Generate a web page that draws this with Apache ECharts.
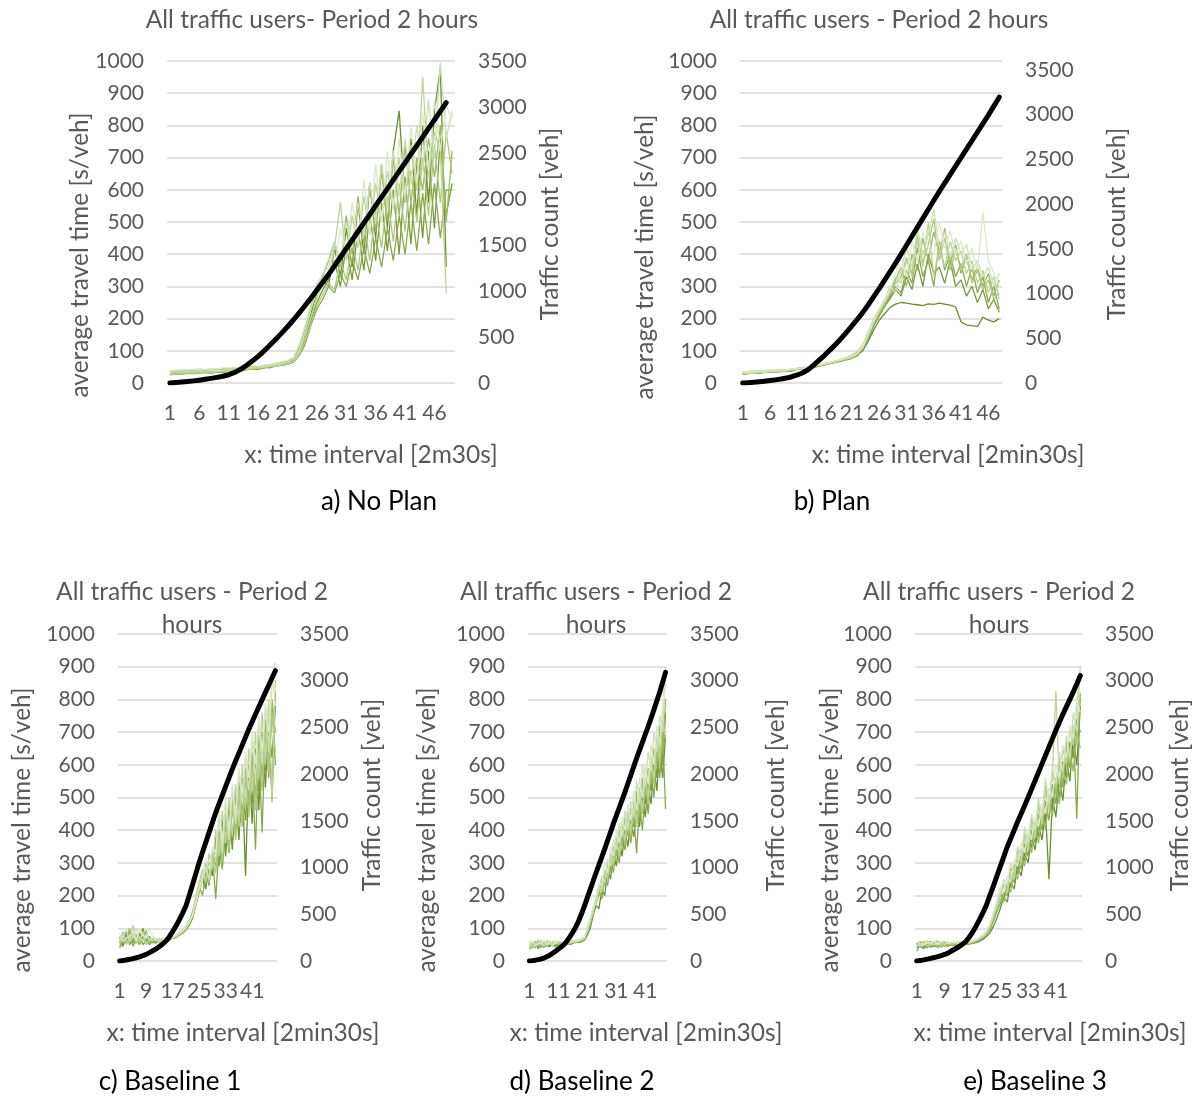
<!DOCTYPE html>
<html><head><meta charset="utf-8">
<script src="https://cdn.jsdelivr.net/npm/echarts@6/dist/echarts.min.js"></script>
<style>html,body{margin:0;padding:0;background:#fff}#c{width:1197px;height:1097px}</style>
</head><body><div id="c"></div>
<script>
// ---------- DATA ----------
const catsA = ['1','2','3','4','5','6','7','8','9','10','11','12','13','14','15','16','17','18','19','20','21','22','23','24','25','26','27','28','29','30','31','32','33','34','35','36','37','38','39','40','41','42','43','44','45','46','47','48','49'];
const cats48 = catsA.slice(0, 48);

// a) No Plan - traffic count (right axis) and travel times (left axis)
const countA = [0,5,10,16,23,31,40,50,61,73,90,115,148,190,238,290,347,410,475,542,612,685,762,842,925,1010,1095,1180,1273,1367,1460,1553,1647,1740,1833,1927,2020,2113,2207,2300,2393,2487,2580,2673,2767,2860,2953,3047];
const ttA1 = [30,33,31,35,34,36,33,37,38,36,40,39,42,45,44,48,50,47,55,58,62,70,95,150,215,280,320,300,420,330,480,360,560,400,620,450,680,480,720,845,560,760,520,800,560,840,980,360];
const ttA2 = [25,28,27,30,29,31,32,30,34,33,36,38,37,41,43,42,46,49,52,55,58,64,85,120,180,230,260,300,280,340,300,380,320,420,340,450,360,480,380,520,400,560,410,590,430,620,450,600,600];
const ttA3 = [35,38,36,40,39,42,41,40,43,45,44,47,46,50,52,51,54,56,60,64,68,78,110,170,240,300,330,380,440,360,520,400,580,430,620,470,660,500,700,520,740,560,700,600,760,640,800,500,720];
const ttA4 = [28,30,33,31,34,32,35,36,34,37,38,40,41,43,45,47,49,52,54,57,60,67,92,145,205,265,310,330,420,560,380,520,420,580,460,620,500,660,540,700,560,740,600,950,640,780,720,280];
const ttA5 = [32,35,34,37,36,38,37,39,40,39,42,43,45,46,48,50,52,55,58,61,65,74,100,160,230,290,340,360,440,380,500,420,560,460,620,500,680,540,720,580,760,620,800,660,880,700,995,760,845];
const ttA6 = [38,40,42,41,43,44,42,45,44,46,47,48,50,52,54,53,56,58,62,66,70,80,120,180,250,310,340,390,350,480,400,560,430,630,460,680,500,720,540,760,580,800,620,840,660,880,720,860,820];
const ttA7 = [30,32,34,33,36,35,38,37,39,41,40,43,44,46,45,49,51,53,56,60,64,72,90,135,195,250,290,320,380,300,430,320,480,350,530,380,560,410,600,400,640,430,680,450,720,480,760,520,620];
const ttA8 = [26,29,28,32,30,33,35,34,36,38,37,40,42,41,44,46,48,50,53,56,60,66,88,128,185,240,275,310,290,380,320,440,350,500,380,540,420,580,440,620,470,660,500,700,520,740,560,780,650];

// b) Plan
const countB = [0,4,9,14,20,27,35,44,55,70,90,115,150,200,255,310,370,430,495,565,638,713,790,875,965,1055,1150,1245,1340,1440,1540,1640,1740,1840,1940,2040,2140,2235,2330,2425,2520,2615,2710,2805,2900,2995,3095,3195];
const ttB1 = [30,32,31,34,33,35,36,35,38,37,42,44,46,49,52,58,62,66,70,75,80,88,100,130,165,195,215,235,245,250,248,245,243,240,246,244,248,245,242,236,190,180,178,175,205,195,190,200];
const ttB2 = [27,29,31,30,33,35,34,37,36,39,44,46,45,50,53,57,60,64,68,72,76,84,105,140,180,210,240,270,300,280,350,310,420,330,380,300,440,350,400,330,370,300,360,280,330,250,300,230];
const ttB3 = [33,35,34,37,38,36,39,40,38,41,45,47,50,52,55,60,63,67,72,78,85,95,110,145,185,220,250,280,320,360,300,400,350,450,380,470,400,480,370,430,340,390,320,360,300,340,270,320];
const ttB4 = [29,31,30,33,32,35,37,36,38,40,43,45,48,51,54,58,62,65,70,74,78,90,115,155,195,225,255,290,330,310,380,330,440,360,500,330,420,360,440,380,410,340,380,310,350,280,330,260];
const ttB5 = [35,36,38,37,39,41,40,42,41,43,46,48,51,53,57,61,65,69,74,80,88,98,120,160,200,230,260,300,280,350,420,360,480,400,460,540,420,470,390,450,400,430,350,380,330,360,300,340];
const ttB6 = [31,34,33,36,35,38,37,39,40,42,44,46,49,52,56,59,64,68,73,77,83,92,112,150,190,225,255,290,340,390,330,440,380,470,420,400,500,420,470,400,440,370,420,350,530,380,340,300];
const ttB7 = [28,30,32,31,34,33,36,38,37,40,43,45,47,50,53,56,61,64,68,73,79,87,102,138,178,208,238,262,290,270,330,290,370,300,400,340,360,310,380,300,320,270,300,250,290,230,260,220];
const ttB8 = [32,33,35,34,37,36,39,41,40,43,45,48,50,53,56,60,64,68,71,76,82,91,108,148,188,218,248,280,310,330,390,340,460,370,430,510,380,450,350,410,360,400,310,350,290,320,260,280];

// c) Baseline 1
const countC = [0,5,11,18,26,35,45,57,71,90,110,130,155,182,214,260,315,375,440,512,589,700,815,935,1054,1163,1270,1377,1483,1589,1682,1775,1868,1961,2054,2140,2225,2311,2396,2482,2561,2640,2718,2797,2875,2952,3030,3107];
const ttC1 = [60,45,80,50,70,55,85,50,60,75,55,62,58,65,60,68,72,70,80,85,95,110,130,170,210,250,220,300,260,380,290,430,320,480,340,520,370,560,260,600,420,650,460,700,530,740,490,820];
const ttC2 = [40,70,55,90,45,65,50,75,55,60,58,55,62,60,66,64,70,75,78,90,100,120,150,190,230,200,270,230,330,190,350,280,420,330,470,380,510,420,560,460,610,340,660,393,720,560,780,600];
const ttC3 = [75,55,65,100,60,80,55,65,90,55,65,60,70,58,64,72,68,78,85,92,105,125,140,180,220,260,300,260,320,290,400,300,450,350,500,400,550,450,590,480,640,500,690,560,740,600,800,700];
const ttC4 = [50,85,60,55,110,65,60,90,50,70,60,66,56,62,70,66,74,72,82,88,98,115,145,200,240,280,240,330,280,400,320,460,360,500,380,540,410,600,470,650,520,700,560,760,600,800,485,860];
const ttC5 = [65,75,95,60,75,100,70,60,80,65,70,64,60,68,62,70,76,74,84,90,100,118,135,175,215,245,290,250,340,310,440,330,490,370,520,420,580,480,620,520,680,550,730,600,780,650,850,913];
const ttC6 = [85,60,70,75,90,60,95,80,70,100,75,70,66,72,68,74,70,80,88,94,108,122,140,185,225,255,310,280,350,330,470,360,505,400,540,450,590,510,640,560,700,600,750,640,790,700,880,780];
const ttC7 = [70,50,90,65,55,80,60,100,65,50,62,58,66,63,60,70,74,72,80,86,96,112,138,178,218,258,230,290,270,360,300,420,340,460,360,500,390,540,430,580,480,620,520,680,580,720,620,780];
const ttC8 = [55,90,50,70,85,55,75,60,95,60,68,62,64,60,66,62,72,76,82,88,102,118,142,182,222,262,280,240,310,270,380,310,440,340,480,370,520,410,570,440,600,460,650,520,700,580,760,640];

// d) Baseline 2
const countD = [0,4,9,15,22,32,45,62,82,105,128,152,179,215,262,310,365,430,505,589,678,767,856,945,1030,1115,1200,1290,1380,1470,1555,1640,1725,1810,1900,1990,2080,2170,2255,2340,2425,2510,2600,2690,2785,2880,2985,3089];
const ttD1 = [45,40,55,38,50,42,48,44,52,46,50,48,52,55,50,54,58,56,60,64,80,100,140,170,160,220,200,280,250,330,290,370,320,400,350,430,380,460,410,500,440,540,480,600,520,650,560,690];
const ttD2 = [55,48,60,45,62,50,58,52,47,55,52,55,50,58,54,57,60,62,58,66,88,120,150,185,210,190,260,230,310,270,350,300,390,340,420,360,450,330,480,400,530,450,580,500,640,560,700,465];
const ttD3 = [35,50,42,58,40,55,45,60,50,42,48,52,56,50,55,60,56,64,62,70,95,110,160,175,200,250,230,300,270,350,320,400,350,440,380,470,420,520,440,560,500,590,540,650,600,720,640,800];
const ttD4 = [60,45,52,65,48,58,62,50,56,60,56,50,60,54,58,56,62,60,66,68,100,130,145,195,230,210,280,250,330,300,380,330,420,370,460,400,490,430,530,460,560,500,620,560,690,620,760,880];
const ttD5 = [40,58,48,52,60,45,55,62,48,58,60,58,54,62,57,63,58,66,64,72,92,125,155,180,220,260,240,310,290,370,340,420,380,460,400,490,440,550,480,600,540,640,580,700,640,750,700,900];
const ttD6 = [50,62,45,55,52,65,50,56,62,52,62,60,58,64,60,58,64,62,70,74,105,135,165,200,240,230,300,270,350,320,400,360,440,400,480,430,520,460,560,500,600,540,660,600,720,660,780,840];
const ttD7 = [48,55,40,60,45,52,58,46,60,50,54,56,52,60,56,58,60,64,62,68,90,115,150,190,220,240,250,290,280,340,330,390,360,430,390,460,410,500,430,540,480,580,520,630,560,700,600,760];
const ttD8 = [52,42,58,50,56,48,62,54,44,60,50,54,58,56,52,60,62,58,68,70,96,118,158,190,215,235,270,260,320,290,370,320,410,360,440,380,470,410,510,450,560,480,610,540,660,600,740,680];

// e) Baseline 3
const countE = [0,6,12,20,28,37,47,58,70,85,107,128,150,175,205,250,305,370,440,515,595,700,800,905,1010,1115,1220,1310,1400,1490,1575,1661,1750,1840,1930,2020,2110,2200,2290,2380,2470,2555,2640,2720,2800,2880,2965,3054];
const ttE1 = [40,45,38,50,42,47,44,48,46,50,48,50,52,49,53,51,55,56,60,66,75,85,105,130,160,195,180,240,220,290,260,330,300,380,340,420,370,460,250,500,440,560,490,620,550,680,600,780];
const ttE2 = [30,50,45,40,55,45,50,42,52,47,50,47,54,52,50,55,53,58,64,70,80,95,120,150,175,210,200,260,240,310,280,360,320,400,360,450,400,490,430,540,480,600,530,660,590,720,435,820];
const ttE3 = [55,42,60,48,45,58,40,55,48,44,52,55,50,56,54,52,57,60,66,72,82,100,125,160,190,180,230,210,280,250,320,290,370,330,410,360,450,400,490,440,530,480,580,540,640,580,700,650];
const ttE4 = [45,55,50,62,48,52,58,46,55,52,54,52,56,54,57,55,58,62,68,74,85,105,135,165,200,230,210,270,250,330,300,380,340,420,380,470,420,520,460,570,826,540,650,600,710,660,780,880];
const ttE5 = [50,46,55,52,58,50,54,60,50,56,56,58,54,58,56,59,60,64,70,76,88,108,140,175,210,250,230,300,270,350,320,410,360,450,400,500,440,560,480,590,540,640,580,690,620,760,700,900];
const ttE6 = [60,52,48,58,54,62,50,57,62,54,58,56,60,57,60,58,62,66,72,80,92,115,145,185,225,210,260,240,310,290,360,330,400,370,440,410,480,450,530,500,600,560,660,620,720,680,800,760];
const ttE7 = [48,58,44,52,60,48,56,50,58,46,52,54,58,52,58,56,60,62,68,74,84,104,130,170,205,190,240,225,295,265,340,305,385,345,425,380,465,420,505,460,560,500,610,560,670,620,740,700];
const ttE8 = [42,60,52,46,50,56,62,48,54,58,50,56,52,60,55,57,59,63,69,75,86,106,132,168,198,235,220,285,260,340,310,390,350,435,390,480,430,535,470,580,520,620,560,670,610,720,660,820];

// ---------- LAYOUT / STYLE ----------
const greens = ['#6A8F2E','#789A3A','#88A94C','#9DBA63','#AFC87F','#BED396','#CEDFB3','#DDE8CB'];
const FONT = 'Lato, "Open Sans", sans-serif';
const GRAY = '#595959';

const panels = [
  {cats: catsA, count: countA, tt: [ttA1,ttA7,ttA2,ttA3,ttA8,ttA4,ttA5,ttA6], rMax: 3500, lblInt: 4,
   grid:{left:167, top:61, width:288, height:322},
   title:['All traffic users- Period 2 hours'], titleX:312, titleY:[20],
   yNameX:80, yNameY:255, rNameX:550, rNameY:224, xName:'x: time interval [2m30s]', xNameX:371, xNameY:455,
   cap:'a) No Plan', capX:379, capY:502},
  {cats: cats48, count: countB, tt: [ttB1,ttB7,ttB2,ttB3,ttB8,ttB4,ttB5,ttB6], rMax: 3600, lblInt: 4,
   grid:{left:740, top:61, width:262, height:322},
   title:['All traffic users - Period 2 hours'], titleX:879, titleY:[20],
   yNameX:645, yNameY:257, rNameX:1117, rNameY:224, xName:'x: time interval [2min30s]', xNameX:948, xNameY:455,
   cap:'b) Plan', capX:832, capY:502},
  {cats: cats48, count: countC, tt: [ttC1,ttC7,ttC2,ttC3,ttC8,ttC4,ttC5,ttC6], rMax: 3500, lblInt: 7,
   grid:{left:118, top:634, width:159, height:327},
   title:['All traffic users - Period 2','hours'], titleX:192, titleY:[592,625],
   yNameX:22, yNameY:830, rNameX:372, rNameY:795, xName:'x: time interval [2min30s]', xNameX:243, xNameY:1033,
   cap:'c) Baseline 1', capX:170, capY:1082},
  {cats: cats48, count: countD, tt: [ttD1,ttD7,ttD2,ttD3,ttD8,ttD4,ttD5,ttD6], rMax: 3500, lblInt: 9,
   grid:{left:528, top:634, width:139, height:327},
   title:['All traffic users - Period 2','hours'], titleX:596, titleY:[592,625],
   yNameX:427, yNameY:830, rNameX:776, rNameY:795, xName:'x: time interval [2min30s]', xNameX:646, xNameY:1033,
   cap:'d) Baseline 2', capX:582, capY:1082},
  {cats: cats48, count: countE, tt: [ttE1,ttE7,ttE2,ttE3,ttE8,ttE4,ttE5,ttE6], rMax: 3500, lblInt: 7,
   grid:{left:915, top:634, width:167, height:327},
   title:['All traffic users - Period 2','hours'], titleX:999, titleY:[592,625],
   yNameX:830, yNameY:830, rNameX:1180, rNameY:795, xName:'x: time interval [2min30s]', xNameX:1050, xNameY:1033,
   cap:'e) Baseline 3', capX:1035, capY:1082}
];

const grids = [], xAxes = [], yAxes = [], series = [], graphics = [];
function txt(x, y, text, size, color, rot) {
  return {type:'text', x:x, y:y, rotation: rot || 0, silent:true,
    style:{text:text, font: size + 'px ' + FONT, fill: color, align:'center', verticalAlign:'middle',
           textAlign:'center', textVerticalAlign:'middle'}};
}
const plain = v => String(v);
panels.forEach((p, i) => {
  grids.push(Object.assign({containLabel:false}, p.grid));
  xAxes.push({type:'category', gridIndex:i, data:p.cats, boundaryGap:true,
    axisLine:{show:false}, axisTick:{show:false},
    axisLabel:{interval:p.lblInt, color:GRAY, fontFamily:FONT, fontSize:21, margin:20}});
  yAxes.push({type:'value', gridIndex:i, position:'left', min:0, max:1000, interval:100,
    axisLine:{show:false}, axisTick:{show:false},
    axisLabel:{color:GRAY, fontFamily:FONT, fontSize:21, margin:23, formatter:plain},
    splitLine:{lineStyle:{color:'#D9D9D9', width:1.5}}});
  yAxes.push({type:'value', gridIndex:i, position:'right', min:0, max:p.rMax, interval:500,
    axisLine:{show:false}, axisTick:{show:false}, splitLine:{show:false},
    axisLabel:{color:GRAY, fontFamily:FONT, fontSize:21, margin:23, formatter:plain, showMaxLabel: p.rMax === 3500}});
  p.tt.forEach((arr, k) => {
    series.push({type:'line', xAxisIndex:i, yAxisIndex:2*i, data:arr, showSymbol:false, symbol:'none',
      lineStyle:{color:greens[k], width:1.3}, silent:true, animation:false});
  });
  series.push({type:'line', xAxisIndex:i, yAxisIndex:2*i+1, data:p.count, showSymbol:false, symbol:'none',
    smooth:false, lineStyle:{color:'#000', width:5, cap:'round', join:'round'}, silent:true, animation:false, z:5});
  p.title.forEach((t, j) => graphics.push(txt(p.titleX, p.titleY[j], t, 24.5, GRAY)));
  graphics.push(txt(p.yNameX, p.yNameY, 'average travel time [s/veh]', 24.5, GRAY, Math.PI/2));
  graphics.push(txt(p.rNameX, p.rNameY, 'Traffic count [veh]', 24.5, GRAY, Math.PI/2));
  graphics.push(txt(p.xNameX, p.xNameY, p.xName, 24.5, GRAY));
  graphics.push(txt(p.capX, p.capY, p.cap, 26, '#000'));
});

const chart = echarts.init(document.getElementById('c'), null, {renderer:'canvas'});
chart.setOption({animation:false, backgroundColor:'#fff', grid:grids, xAxis:xAxes, yAxis:yAxes, series:series, graphic:graphics});
</script></body></html>
